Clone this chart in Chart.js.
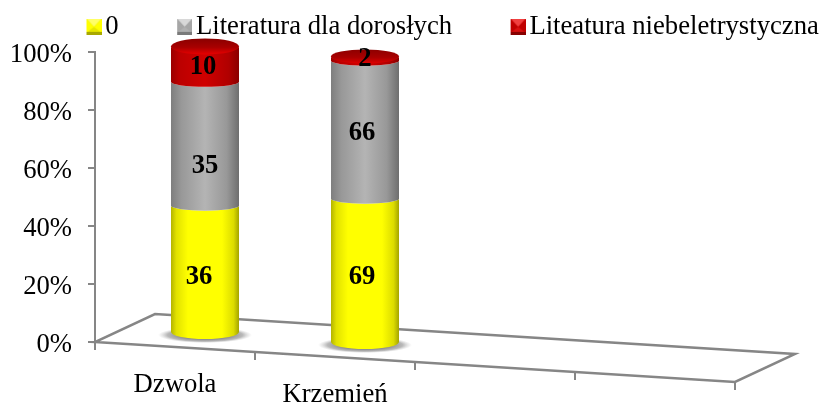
<!DOCTYPE html>
<html><head><meta charset="utf-8">
<style>html,body{margin:0;padding:0;background:#fff}canvas{display:block}</style>
<script src="https://cdn.jsdelivr.net/npm/chart.js@4/dist/chart.umd.min.js"></script>
</head><body>
<canvas id="c" width="820" height="403"></canvas>
<script>
// ---- data ----
const categories = ["Dzwola", "Krzemień", "", ""];
const seriesNames = ["0", "Literatura dla dorosłych", "Liteatura niebeletrystyczna"];
const series0 = [36, 69, null, null];
const seriesAdult = [35, 66, null, null];
const seriesNonFiction = [10, 2, null, null];
const yTickStep = 20;

// ---- style ----
const FONT = '"Liberation Serif", "Times New Roman", serif';
const FS = 26.67;
const AXIS = '#868686';
const DEPTH_X = 60, DEPTH_Y = 28, SHEAR = 0.0625, HEIGHT_K = 0.988;
const palettes = [
  {base:'#ffff00', side:[[0,'#b4b400'],[0.08,'#e2e200'],[0.25,'#ffff00'],[0.75,'#ffff00'],[0.92,'#dcdc00'],[1,'#a4a400']], tri:'#ffff66', dark:'#a8a800', mid:'#e6e600'},
  {base:'#a6a6a6', side:[[0,'#7e7e7e'],[0.15,'#989898'],[0.5,'#b4b4b4'],[0.82,'#989898'],[1,'#6e6e6e']], tri:'#d8d8d8', dark:'#7a7a7a', mid:'#b0b0b0'},
  {base:'#c00000', side:[[0,'#9a0000'],[0.12,'#bb0000'],[0.5,'#d00000'],[0.85,'#b00000'],[1,'#8a0000']], tri:'#f04040', dark:'#880000', mid:'#d81010'}
];
const labelNudge = [[[-6,8],[-3,7]], [[0,22],[-3,3]], [[-2,3],[0,1]]];

const seriesList = [series0, seriesAdult, seriesNonFiction];
const percentOf = (arr) => arr.map((v, i) => {
  if (v == null) return null;
  const t = seriesList.reduce((s, a) => s + (a[i] || 0), 0);
  return v / t * 100;
});

function marker(p) {
  const c = document.createElement('canvas');
  c.width = 20; c.height = 16;
  const g = c.getContext('2d');
  const L = 5, R = 20, T = 0, B = 16;
  g.fillStyle = p.mid; g.fillRect(L, T, R - L, B - T);
  g.fillStyle = p.tri;
  g.beginPath(); g.moveTo(L, T); g.lineTo(R, T); g.lineTo((L + R) / 2, 8); g.closePath(); g.fill();
  g.fillStyle = p.base;
  g.beginPath(); g.moveTo(L, T); g.lineTo((L + R) / 2, 8); g.lineTo(L + 1, B - 3); g.lineTo(L, B - 3); g.closePath(); g.fill();
  g.beginPath(); g.moveTo(R, T); g.lineTo((L + R) / 2, 8); g.lineTo(R - 1, B - 3); g.lineTo(R, B - 3); g.closePath(); g.fill();
  g.fillStyle = p.dark; g.fillRect(L, B - 3, R - L, 3);
  return c;
}
const markers = palettes.map(marker);

const legendPlace = {
  id: 'legendPlace',
  beforeLayout(chart) {
    const l = chart.legend;
    if (l._placed) return;
    l._placed = true;
    const origFit = l.fit;
    l.fit = function () {
      this.maxWidth = 3000;
      origFit.call(this);
      this.width = 820; this.height = 52;
    };
  },
  afterLayout(chart) {
    const l = chart.legend, pad = l.options.labels.padding;
    l.left = 91 - pad; l.right = 3000; l.top = 13.5 - pad;
  }
};

function project(chart, x, y, depth) {
  const a = chart.chartArea;
  return { x: x + DEPTH_X * depth, y: y + (x - a.left) * SHEAR - DEPTH_Y * depth };
}
function lines(ctx, pts, close) {
  ctx.beginPath();
  pts.forEach((p, i) => i ? ctx.lineTo(p.x, p.y) : ctx.moveTo(p.x, p.y));
  if (close) ctx.closePath();
  ctx.stroke();
}

const cylinders = {
  id: 'cylinders',
  beforeDatasetDraw() { return false; },
  beforeDatasetsDraw(chart) {
    const ctx = chart.ctx, a = chart.chartArea, xs = chart.scales.x, n = categories.length;
    ctx.save();
    ctx.strokeStyle = AXIS; ctx.lineWidth = 2.5;
    const fl = project(chart, a.left, a.bottom, 0), fr = project(chart, a.right, a.bottom, 0);
    const br = project(chart, a.right, a.bottom, 1), bl = project(chart, a.left, a.bottom, 1);
    lines(ctx, [fl, fr, br, bl], true);
    ctx.lineWidth = 2;
    for (let i = 0; i <= n; i++) {
      const p = project(chart, a.left + i * a.width / n, a.bottom, 0);
      lines(ctx, [p, {x: p.x, y: p.y + 8}]);
    }
    ctx.fillStyle = '#000';
    ctx.font = FS + 'px ' + FONT; ctx.textAlign = 'center'; ctx.textBaseline = 'middle';
    categories.forEach((c, i) => {
      if (!c) return;
      const x = xs.getPixelForTick(i);
      const p = project(chart, x, a.bottom, 0);
      ctx.fillText(xs.getLabelForValue(i), p.x, p.y + 38);
    });
    ctx.restore();
  },
  afterDatasetsDraw(chart) {
    const ctx = chart.ctx;
    ctx.save();
    const metas = chart.data.datasets.map((d, i) => chart.getDatasetMeta(i));
    const scaleBase = chart.chartArea.bottom;
    categories.forEach((c, i) => {
      const first = metas[0].data[i];
      if (seriesList[0][i] == null) return;
      const rx = first.width / 2;
      const bottom = project(chart, first.x, scaleBase, 0.5);
      const cx = bottom.x;
      // ground shadow
      ctx.save();
      ctx.translate(cx, bottom.y + 2); ctx.scale(1, 8 / 47);
      const rg = ctx.createRadialGradient(0, 0, 24, 0, 0, 47);
      rg.addColorStop(0, 'rgba(120,120,120,0.9)');
      rg.addColorStop(0.6, 'rgba(140,140,140,0.6)');
      rg.addColorStop(1, 'rgba(190,190,190,0)');
      ctx.fillStyle = rg;
      ctx.beginPath(); ctx.arc(0, 0, 47, 0, Math.PI * 2); ctx.fill();
      ctx.restore();
      const yOf = (px) => bottom.y - (scaleBase - px) * HEIGHT_K;
      metas.forEach((m, s) => {
        const el = m.data[i], pal = palettes[s];
        const y0 = yOf(el.base), y1 = yOf(el.y);
        const ryB = s === 0 ? 7 : 5;
        const gr = ctx.createLinearGradient(cx - rx, 0, cx + rx, 0);
        pal.side.forEach(st => gr.addColorStop(st[0], st[1]));
        ctx.fillStyle = gr;
        ctx.beginPath();
        ctx.moveTo(cx - rx, y1);
        ctx.lineTo(cx - rx, y0);
        ctx.ellipse(cx, y0, rx, ryB, 0, Math.PI, 0, true);
        ctx.lineTo(cx + rx, y1);
        ctx.ellipse(cx, y1, rx, 5, 0, 0, Math.PI, false);
        ctx.closePath(); ctx.fill();
        if (s === metas.length - 1) {
          const top = ctx.createLinearGradient(0, y1 - 8, 0, y1 + 8);
          top.addColorStop(0, '#8a0000');
          top.addColorStop(0.55, '#a80000');
          top.addColorStop(1, '#e80000');
          ctx.fillStyle = top;
          ctx.beginPath(); ctx.ellipse(cx, y1, rx, 8 - i, 0, 0, Math.PI * 2); ctx.fill();
        }
      });
      ctx.fillStyle = '#000';
      ctx.font = 'bold ' + FS + 'px ' + FONT; ctx.textAlign = 'center'; ctx.textBaseline = 'middle';
      metas.forEach((m, s) => {
        const el = m.data[i];
        const y0 = yOf(el.base), y1 = yOf(el.y), nd = labelNudge[s][i];
        ctx.fillText(String(seriesList[s][i]), cx + nd[0], (y0 + y1) / 2 + nd[1]);
      });
    });
    ctx.restore();
  }
};

new Chart(document.getElementById('c'), {
  type: 'bar',
  data: {
    labels: categories,
    datasets: seriesNames.map((name, s) => ({
      label: name,
      data: percentOf(seriesList[s]),
      backgroundColor: palettes[s].base,
      barPercentage: 0.425,
      categoryPercentage: 1
    }))
  },
  plugins: [legendPlace, cylinders],
  options: {
    responsive: false,
    animation: false,
    layout: { padding: { right: 85 } },
    plugins: {
      tooltip: { enabled: false },
      legend: {
        position: 'top', align: 'start',
        labels: {
          usePointStyle: true, boxWidth: 1, boxHeight: 16, padding: 63, color: '#000',
          font: { family: FONT, size: FS },
          generateLabels: (chart) => chart.data.datasets.map((d, i) => ({
            text: d.label, pointStyle: markers[i], fillStyle: d.backgroundColor,
            strokeStyle: 'transparent', lineWidth: 0, hidden: false, datasetIndex: i
          }))
        }
      }
    },
    scales: {
      x: {
        stacked: true,
        grid: { display: false }, border: { display: false }, ticks: { display: false },
        afterFit(s) { s.height = 61; }
      },
      y: {
        stacked: true, min: 0, max: 100,
        border: { color: AXIS, width: 2 },
        grid: { drawOnChartArea: false, drawTicks: true, tickLength: 7, color: AXIS, lineWidth: 2 },
        ticks: { stepSize: yTickStep, autoSkip: false, padding: 16, labelOffset: 2.5, color: '#000', font: { family: FONT, size: FS }, callback: v => v + '%' },
        afterFit(s) { s.width = 95; }
      }
    }
  }
});
</script>
</body></html>
